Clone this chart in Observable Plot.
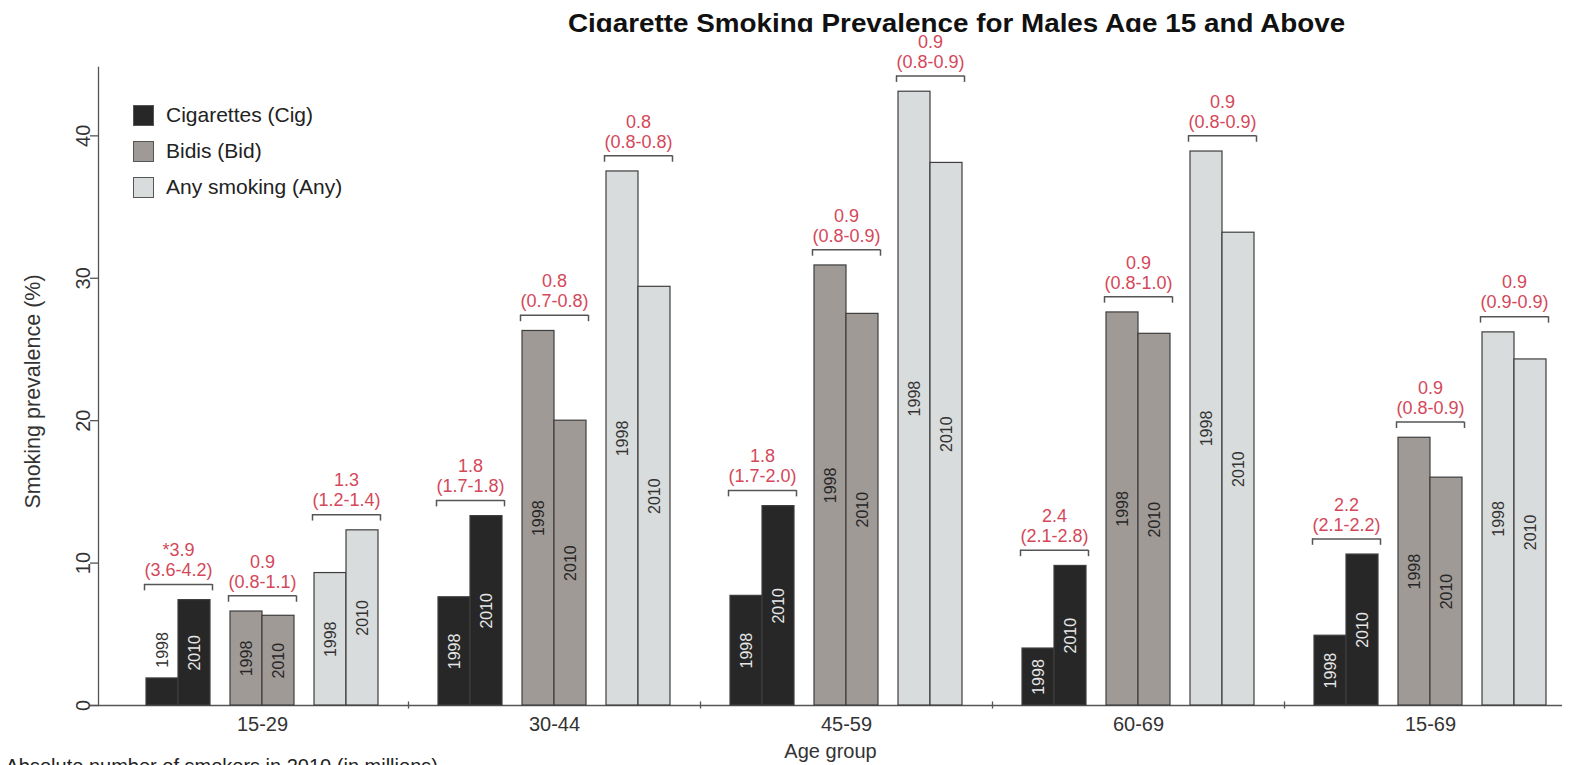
<!DOCTYPE html>
<html>
<head>
<meta charset="utf-8">
<script src="https://cdn.jsdelivr.net/npm/d3@7"></script>
<script src="https://cdn.jsdelivr.net/npm/@observablehq/plot@0.6"></script>
<style>
html,body{margin:0;padding:0;background:#fff;overflow:hidden;}
#wrap{position:relative;width:1570px;height:765px;overflow:hidden;font-family:"Liberation Sans",Arial,sans-serif;}
#title{position:absolute;left:568px;top:0;height:32px;overflow:hidden;white-space:nowrap;font-weight:bold;font-size:26px;line-height:46px;color:#111;transform:scaleX(1.07);transform-origin:left top;}
#chart{position:absolute;left:0;top:0;}
#legend{position:absolute;left:133px;top:97px;}
#legend .row{display:flex;align-items:center;height:36px;}
#legend .sw{width:21px;height:21px;border:1px solid #555;box-sizing:border-box;}
#legend .lb{margin-left:12px;font-size:21px;color:#222;}
</style>
</head>
<body>
<div id="wrap">
  <div id="chart"></div>
  <div id="title">Cigarette Smoking Prevalence for Males Age 15 and Above</div>
  <div id="legend"></div>
</div>
<script>
// ---- data ----
const groups = ["15-29", "30-44", "45-59", "60-69", "15-69"];
const types = ["Cig", "Bid", "Any"];
const typeNames = ["Cigarettes (Cig)", "Bidis (Bid)", "Any smoking (Any)"];
const years = ["1998", "2010"];

const cig1998 = [1.9, 7.6, 7.7, 4.0, 4.9];
const cig2010 = [7.4, 13.3, 14.0, 9.8, 10.6];
const bid1998 = [6.6, 26.3, 30.9, 27.6, 18.8];
const bid2010 = [6.3, 20.0, 27.5, 26.1, 16.0];
const any1998 = [9.3, 37.5, 43.1, 38.9, 26.2];
const any2010 = [12.3, 29.4, 38.1, 33.2, 24.3];

const cigRatio = ["*3.9", "1.8", "1.8", "2.4", "2.2"];
const cigCI = ["(3.6-4.2)", "(1.7-1.8)", "(1.7-2.0)", "(2.1-2.8)", "(2.1-2.2)"];
const bidRatio = ["0.9", "0.8", "0.9", "0.9", "0.9"];
const bidCI = ["(0.8-1.1)", "(0.7-0.8)", "(0.8-0.9)", "(0.8-1.0)", "(0.8-0.9)"];
const anyRatio = ["1.3", "0.8", "0.9", "0.9", "0.9"];
const anyCI = ["(1.2-1.4)", "(0.8-0.8)", "(0.8-0.9)", "(0.8-0.9)", "(0.9-0.9)"];

const yTicks = [0, 10, 20, 30, 40];

// ---- styles ----
const fills = {Cig: "#272727", Bid: "#a09a96", Any: "#d9dcdc"};
const yearText = {Cig: "#e6e6e6", Bid: "#262626", Any: "#333333"};
const red = "#d4485a";
const axisCol = "#555";

// ---- table ----
const series = {
  Cig: [cig1998, cig2010, cigRatio, cigCI],
  Bid: [bid1998, bid2010, bidRatio, bidCI],
  Any: [any1998, any2010, anyRatio, anyCI]
};
const rows = [];
groups.forEach((g, i) => {
  types.forEach(t => {
    const [a, b, r, c] = series[t];
    rows.push({group: g, type: t, v1998: a[i], v2010: b[i], ratio: r[i], ci: c[i], top: Math.max(a[i], b[i])});
  });
});

// legend
const leg = document.getElementById("legend");
types.forEach((t, i) => {
  const row = document.createElement("div");
  row.className = "row";
  row.innerHTML = `<div class="sw" style="background:${fills[t]}"></div><div class="lb">${typeNames[i]}</div>`;
  leg.appendChild(row);
});

const base = {
  width: 1570, height: 765,
  marginLeft: 98, marginRight: 8, marginTop: 67, marginBottom: 60,
  x: {domain: groups, paddingInner: 0.2066, paddingOuter: 0.1067, align: 0.747, axis: null},
  y: {domain: [0, 44.8], axis: null},
  color: {type: "identity"},
  style: {fontFamily: '"Liberation Sans", Arial, sans-serif', fontSize: "20px", color: "#333", background: "#fff"}
};

const probe = Plot.plot({...base, marks: [Plot.barY(rows, {x: "group", y: "top"})]});
const xs = probe.scale("x");
const bw = xs.bandwidth;
const step = xs.step || bw / (1 - 0.2066);
const inner = d3.scaleBand(types, [0, bw]).paddingInner(20 / 84).paddingOuter(0);
const pw = inner.bandwidth();
const half = pw / 2;
const bOff = 1.1;

const marks = [];
// axes
marks.push(Plot.ruleY([0], {stroke: axisCol, strokeWidth: 1.3, insetLeft: -8}));
marks.push(Plot.frame({anchor: "left", stroke: axisCol, strokeWidth: 1.3}));
marks.push(Plot.axisY({ticks: yTicks, tickSize: 8, tickFormat: () => "", stroke: axisCol, strokeWidth: 1.3, label: null}));
marks.push(Plot.text(yTicks, {y: d => d, text: d => String(d), frameAnchor: "left", textAnchor: "middle", dx: -15, rotate: -90, fill: "#333", fontSize: 20}));
marks.push(Plot.text(["Smoking prevalence (%)"], {text: d => d, frameAnchor: "left", textAnchor: "middle", dx: -65, dy: 5, rotate: -90, fill: "#333", fontSize: 21.5}));
marks.push(Plot.axisX({tickSize: 0, tickPadding: 11, label: null, fill: "#333", fontSize: 20}));
marks.push(Plot.ruleX(groups.slice(1), {x: d => d, y1: -0.25, y2: 0.25, dx: -step / 2, stroke: axisCol, strokeWidth: 1.3}));
marks.push(Plot.text(["Age group"], {text: d => d, frameAnchor: "bottom", dy: 52, fill: "#333", fontSize: 20}));
marks.push(Plot.text(["Absolute number of smokers in 2010 (in millions)"], {text: d => d, frameAnchor: "bottom-left", dx: -93, dy: 67, textAnchor: "start", fill: "#222", fontSize: 20}));

types.forEach(t => {
  const data = rows.filter(d => d.type === t);
  const left = inner(t);
  years.forEach((yr, k) => {
    const L = left + k * half;
    marks.push(Plot.barY(data, {
      x: "group", y: "v" + yr, fill: fills[t], stroke: "#3e3e3e", strokeWidth: 1.2,
      insetLeft: L, insetRight: bw - L - half
    }));
    marks.push(Plot.text(data, {
      x: "group",
      y: d => d["v" + yr] < 4 ? d["v" + yr] + 2.0 : d["v" + yr] / 2,
      text: () => yr,
      fill: d => d["v" + yr] < 4 ? "#333333" : yearText[t],
      rotate: -90, fontSize: 16,
      dx: L + half / 2 - bw / 2
    }));
  });
  // bracket
  const by = d => d.top + bOff;
  marks.push(Plot.tickY(data, {x: "group", y: by, stroke: "#555", strokeWidth: 1.5, insetLeft: left - 2, insetRight: bw - left - pw - 2}));
  marks.push(Plot.ruleX(data, {x: "group", y1: by, y2: d => by(d) - 0.45, dx: left - 2 - bw / 2, stroke: "#555", strokeWidth: 1.5}));
  marks.push(Plot.ruleX(data, {x: "group", y1: by, y2: d => by(d) - 0.45, dx: left + pw + 2 - bw / 2, stroke: "#555", strokeWidth: 1.5}));
  // red annotations
  marks.push(Plot.text(data, {x: "group", y: by, text: "ci", dx: left + pw / 2 - bw / 2, dy: -14, fill: red, fontSize: 18}));
  marks.push(Plot.text(data, {x: "group", y: by, text: "ratio", dx: left + pw / 2 - bw / 2, dy: -34, fill: red, fontSize: 18}));
});

const chart = Plot.plot({...base, marks});
document.getElementById("chart").appendChild(chart);
</script>
</body>
</html>
